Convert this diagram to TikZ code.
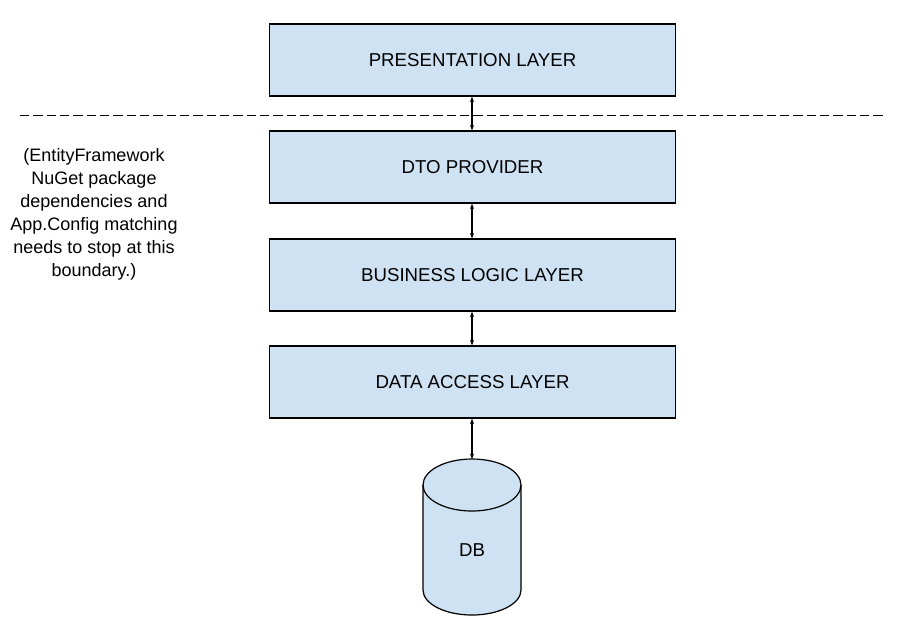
\documentclass[tikz,border=0pt]{standalone}
\usepackage{fontspec}
\setmainfont{Liberation Sans}
\usetikzlibrary{arrows.meta,shapes.geometric}
\definecolor{layerfill}{HTML}{CFE2F3}
\tikzset{
  layer/.style={draw=black, line width=0.9pt, fill=layerfill, minimum width=406*0.75pt, minimum height=72*0.75pt, inner sep=0pt, font=\fontsize{14pt}{16pt}\selectfont},
  link/.style={line width=0.8pt, {Stealth[length=4pt,width=3pt]}-{Stealth[length=4pt,width=3pt]}},
  boundary/.style={line width=0.7pt, dash pattern=on 7pt off 3pt},
  note/.style={align=center, font=\fontsize{13.5pt}{17.25pt}\selectfont, inner sep=0pt}
}
\begin{document}
\begin{tikzpicture}[x=0.75pt,y=-0.75pt]
\useasboundingbox (0,0) rectangle (905,640);
\node[layer] (pres) at (472.5,60) {PRESENTATION LAYER};
\node[layer] (dto) at (472.5,167) {DTO PROVIDER};
\node[layer] (bll) at (472.5,275) {BUSINESS LOGIC LAYER};
\node[layer] (dal) at (472.5,382) {DATA ACCESS LAYER};
% cylinder
\coordinate (dbtop) at (472,459);
\filldraw[fill=layerfill, draw=black, line width=0.9pt]
  (423,485) -- (423,590) arc[start angle=180, end angle=0, x radius=49, y radius=25]
  -- (521,485) arc[start angle=0, end angle=-180, x radius=49, y radius=26] -- cycle;
\draw[line width=0.9pt] (423,485) arc[start angle=180, end angle=0, x radius=49, y radius=26];
\node[font=\fontsize{14pt}{16pt}\selectfont] (db) at (472,550) {DB};
% boundary
\coordinate (bl) at (20,115);
\coordinate (br) at (885,115);
\draw[boundary] (bl) -- (br);
% links
\draw[link] (pres.south -| 472,0) -- (dto.north -| 472,0);
\draw[link] (dto.south -| 472,0) -- (bll.north -| 472,0);
\draw[link] (bll.south -| 472,0) -- (dal.north -| 472,0);
\draw[link] (dal.south -| 472,0) -- (dbtop);
\node[note] (txt) at (94,214) {(EntityFramework\\NuGet package\\dependencies and\\App.Config matching\\needs to stop at this\\boundary.)};
\end{tikzpicture}
\end{document}
